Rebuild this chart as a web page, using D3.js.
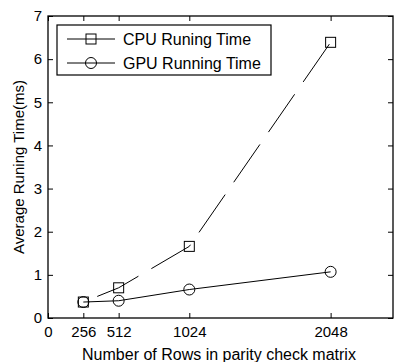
<!DOCTYPE html>
<html>
<head>
<meta charset="utf-8">
<script src="https://cdn.jsdelivr.net/npm/d3@7"></script>
<style>
  body { margin: 0; background: #fff; }
  text { font-family: "Liberation Sans", Arial, sans-serif; fill: #000; }
</style>
</head>
<body>
<div id="chart"></div>
<script>
// data
var rows = [256, 512, 1024, 2048];
var cpuTime = [0.37, 0.70, 1.66, 6.39];
var gpuTime = [0.37, 0.40, 0.66, 1.07];
var xTicks = [0, 256, 512, 1024, 2048];
var yTicks = [0, 1, 2, 3, 4, 5, 6, 7];
var seriesNames = ["CPU Runing Time", "GPU Running Time"];

var width = 395, height = 362;
var margin = {left: 48, right: 2, top: 16, bottom: 44};

var svg = d3.select("#chart").append("svg")
    .attr("width", width)
    .attr("height", height);

var x = d3.scaleLinear().domain([0, 2500]).range([margin.left, width - margin.right]);
var y = d3.scaleLinear().domain([0, 7]).range([height - margin.bottom, margin.top]);

var tick = 5;
var fmt = d3.format("d");

// bottom axis (ticks pointing in)
var gx = svg.append("g")
    .attr("transform", "translate(0," + y(0) + ")")
    .call(d3.axisBottom(x).tickValues(xTicks).tickFormat(fmt).tickSizeInner(-tick).tickSizeOuter(0).tickPadding(8));
// top axis, ticks only
var gxt = svg.append("g")
    .attr("transform", "translate(0," + y(7) + ")")
    .call(d3.axisTop(x).tickValues(xTicks).tickSizeInner(-tick).tickSizeOuter(0).tickFormat(""));
// left axis
var gy = svg.append("g")
    .attr("transform", "translate(" + x(0) + ",0)")
    .call(d3.axisLeft(y).tickValues(yTicks).tickFormat(fmt).tickSizeInner(-tick).tickSizeOuter(0).tickPadding(6));
// right axis, ticks only
var gyr = svg.append("g")
    .attr("transform", "translate(" + x(2500) + ",0)")
    .call(d3.axisRight(y).tickValues(yTicks).tickSizeInner(-tick).tickSizeOuter(0).tickFormat(""));

[gx, gxt, gy, gyr].forEach(function(g) {
    g.attr("font-size", null).attr("font-family", null);
    g.selectAll(".domain").remove();
    g.selectAll("line").attr("stroke", "#000");
    g.selectAll("text").style("font-size", "15px").attr("fill", "#000");
});

// box
svg.append("rect")
    .attr("x", x(0)).attr("y", y(7))
    .attr("width", x(2500) - x(0)).attr("height", y(0) - y(7))
    .attr("fill", "none").attr("stroke", "#000").attr("stroke-width", 1.3);

var line = d3.line()
    .x(function(d) { return x(d[0]); })
    .y(function(d) { return y(d[1]); });

var cpuPts = rows.map(function(r, i) { return [r, cpuTime[i]]; });
var gpuPts = rows.map(function(r, i) { return [r, gpuTime[i]]; });

svg.append("path")
    .attr("d", line(cpuPts))
    .attr("fill", "none").attr("stroke", "#000").attr("stroke-width", 1)
    .attr("stroke-dasharray", "46,15").attr("stroke-dashoffset", 46);

svg.append("path")
    .attr("d", line(gpuPts))
    .attr("fill", "none").attr("stroke", "#000").attr("stroke-width", 1);

svg.selectAll(".sq").data(cpuPts).enter().append("rect")
    .attr("x", function(d) { return x(d[0]) - 5; })
    .attr("y", function(d) { return y(d[1]) - 5; })
    .attr("width", 10).attr("height", 10)
    .attr("fill", "none").attr("stroke", "#000").attr("stroke-width", 1);

svg.selectAll(".ci").data(gpuPts).enter().append("circle")
    .attr("cx", function(d) { return x(d[0]); })
    .attr("cy", function(d) { return y(d[1]); })
    .attr("r", 5.5)
    .attr("fill", "none").attr("stroke", "#000").attr("stroke-width", 1);

// legend
var lg = svg.append("g");
lg.append("rect")
    .attr("x", 57).attr("y", 25).attr("width", 214).attr("height", 50)
    .attr("fill", "#fff").attr("stroke", "#000").attr("stroke-width", 1.2);
seriesNames.forEach(function(name, i) {
    var cy = 39 + i * 24;
    lg.append("line").attr("x1", 67).attr("x2", 115).attr("y1", cy).attr("y2", cy)
        .attr("stroke", "#000").attr("stroke-width", 1);
    if (i === 0) {
        lg.append("rect").attr("x", 86).attr("y", cy - 5).attr("width", 10).attr("height", 10)
            .attr("fill", "none").attr("stroke", "#000");
    } else {
        lg.append("circle").attr("cx", 91).attr("cy", cy).attr("r", 5.5)
            .attr("fill", "none").attr("stroke", "#000");
    }
    lg.append("text").attr("x", 123).attr("y", cy).attr("dy", "0.36em")
        .style("font-size", "16px").text(name);
});

// axis titles
svg.append("text")
    .attr("x", 219).attr("y", 360)
    .attr("text-anchor", "middle").style("font-size", "16px")
    .text("Number of Rows in parity check matrix");

svg.append("text")
    .attr("transform", "translate(24," + (y(3.5)) + ") rotate(-90)")
    .attr("text-anchor", "middle").style("font-size", "15px")
    .text("Average Runing Time(ms)");
</script>
</body>
</html>
